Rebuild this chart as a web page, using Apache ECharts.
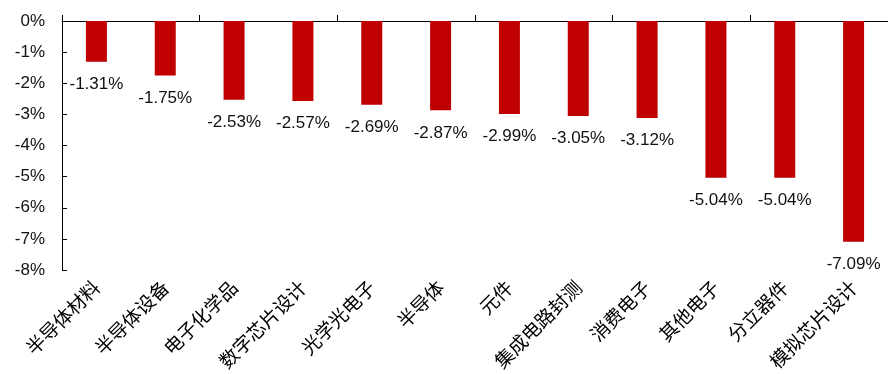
<!DOCTYPE html>
<html><head><meta charset="utf-8">
<script src="https://cdn.jsdelivr.net/npm/echarts@6/dist/echarts.min.js"></script>
<style>html,body{margin:0;padding:0;background:#fff}#c{width:888px;height:374px}</style>
</head><body><div id="c"></div>
<script>
const categories = ['半导体材料','半导体设备','电子化学品','数字芯片设计','光学光电子','半导体','元件','集成电路封测','消费电子','其他电子','分立器件','模拟芯片设计'];
const values = [-1.31,-1.75,-2.53,-2.57,-2.69,-2.87,-2.99,-3.05,-3.12,-5.04,-5.04,-7.09];
const yMin = -8, yMax = 0, yStep = 1;
const font = '"Liberation Sans", Arial, "Noto Sans CJK SC", sans-serif';
const chart = echarts.init(document.getElementById('c'));
chart.setOption({
  animation: false,
  grid: {left: 62, right: 0, top: 21, bottom: 104},
  xAxis: [
    {type: 'category', data: categories, position: 'top',
     axisLine: {onZero: false, lineStyle: {color: '#000', width: 1}},
     axisTick: {show: true, inside: false, length: 6, lineStyle: {color: '#000'}},
     axisLabel: {show: false}},
    {type: 'category', data: categories, position: 'bottom',
     axisLine: {show: false}, axisTick: {show: false},
     axisLabel: {rotate: 45, margin: 14, fontSize: 19, color: '#000', fontFamily: '"Noto Sans CJK SC", sans-serif'}}
  ],
  yAxis: {type: 'value', min: yMin, max: yMax, interval: yStep,
    axisLine: {show: true, lineStyle: {color: '#000', width: 1}},
    axisTick: {show: true, inside: true, length: 5, lineStyle: {color: '#000'}},
    splitLine: {show: false},
    axisLabel: {formatter: v => v + '%', fontSize: 17, color: '#111', margin: 17, fontFamily: font}},
  series: [{type: 'bar', xAxisIndex: 0, data: values, barWidth: 21,
    itemStyle: {color: '#C00000'},
    label: {show: true, position: 'bottom', distance: 14, fontSize: 17, color: '#111', fontFamily: font,
      formatter: p => p.value.toFixed(2) + '%'}}]
});
</script></body></html>
